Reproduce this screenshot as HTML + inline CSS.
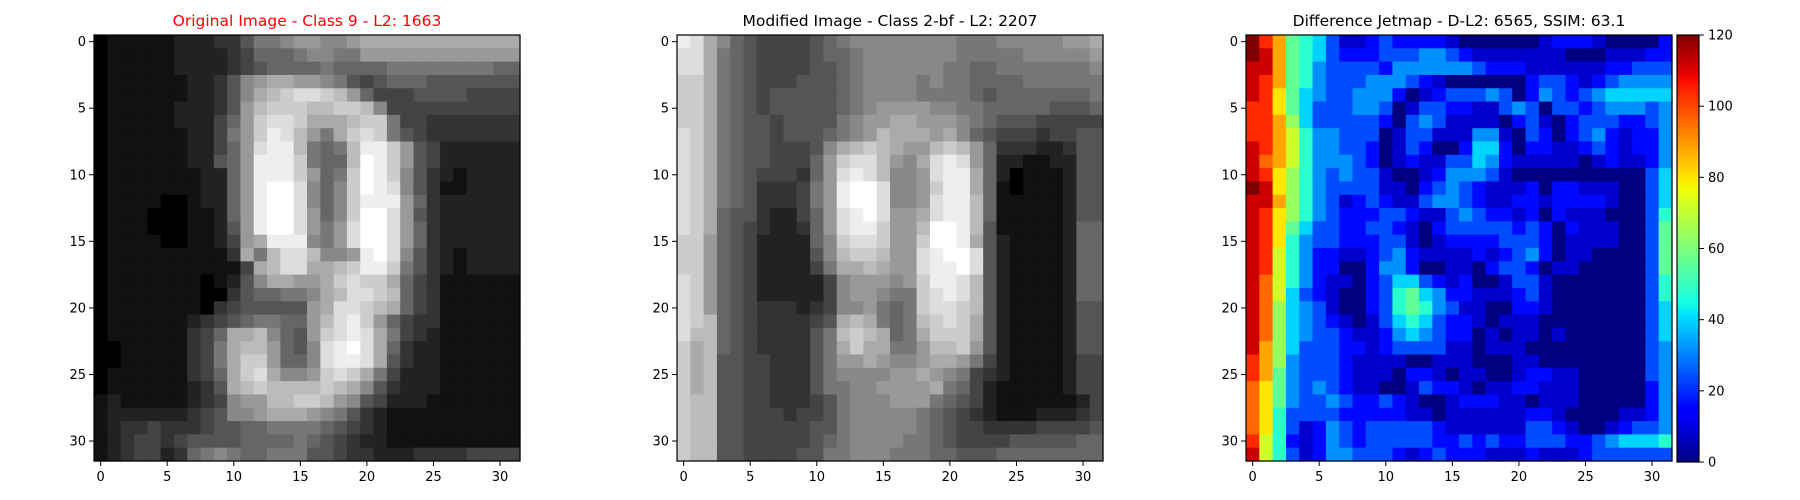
<!DOCTYPE html>
<html><head><meta charset="utf-8"><style>
html,body{margin:0;padding:0;background:#fff;}
svg{display:block;font-family:"DejaVu Sans","Liberation Sans",sans-serif;}
</style></head><body>
<svg id="fig" width="1800" height="500" viewBox="0 0 1800 500" xmlns="http://www.w3.org/2000/svg"></svg>
<script>
// --- data (32x32 grids; gray as hex level 0-f (x17), diff as hex level 0-f (x8 => 0-120)) ---
const originalRows = [
"01111122233577899889aaaaaaaaaaaa","01111122223466678877999999999999","01111122223456666766667777777766","0111111223589aa99875456665555555",
"011111122358abcddcb9644455554444","011111222359bcccbbccb84444444444","011111222469cddcaaabcc7443333333","011111122479cedb97acdc7543333333",
"011111122469deeb767beec954222222","011111122569eeec766bfec954222222","011111112269eeec967cfec853212222","011111112269effd868cfed853112222",
"011110012269effd868ceee963222222","011100011269effd968cffd953222222","011100011259effd979dffd963222222","011110011249aeee879dffd963222222",
"01111111113a7bddb889efd853212222","011111111114abddaabceec753212222","0111111101258aa99acdcca643111111","01111111003566778abddcb643111111",
"01111111034555559addcba643111111","01111112345677669bdec96433111111","0111111346aab8659cdeda7432111111","0011111347abb9658defda6322111111",
"0011111347acc9668deeda5322111111","0111111346acda889cdca74222111111","0111111235abcbbbbcba853222111111","1211111234899bbccb98542221111111",
"1222222345889aaa9875321111111111","12334333455667777654321111111111","12344345555666676543221111111111","12344236787667775543322233334444"];
const modifiedRows = [
"eda8654444567888888887778888899a","dda76544445667888888877777888889","dda76544445567888888776677777778","cca76544455567888878776666777777",
"cca76545555567888877776566666667","cca76545555567899998877666665556","cca7655455557899aa99987655544444","dca765545556789baaa9a86544434455",
"dca765544458abcba99bcb9633322355","dca765544469cddb98aded9622112255","dca765444369dedb889deea620111255","dca765333479effd889ceea610111255",
"dca765333479effd889deeb611111255","dca655322469defd99adeeb611111255","dca654322369deec99bffeb511111266","cc9654222268cddc99cffea521111266",
"cc9654222258bccb99deffd521111266","cc9654222247aaba99deefd521111266","dc9654222224899989ceedb521111266","dc9654222224899877cdedb521111266",
"dc9654333234889767cddcb521111255","dcb654333345aba767bcdca521111255","dbb654333357bcba67accca521111255","cab654333357acaa779bbc9521111255",
"cab55443335799a9889aa97421111244","cab554433357888899a9874321111244","cab5544333577889999a764211111244","cbb55443334578889997654211111124",
"cbb55444344578888876543211122234","cbb55444445578888876544333344445","cbb55444445678888776544445555566","cbb55444455778887776655566666666"];
const diffRows = [
"fdb76531123222210000001222100002","feb76532223334432111111100011122","eeb76433332444444322211111122333","edb76433344432100000023321234444",
"eda75433444201233343024323455555","dda75333443013322113430332344434","ddb85333332034311110231023332234","ddb96443330133111441032023421224",
"edb96443320132002552022112321224","ecb96444320121133542111110121124","eda86434331001244431000000000035","fea86433331102343211120221110035",
"eeb86431232113443211221222210035","eda86432223321134322120211100036","eda75332233210233333232021110037","eda64332223310122223332011110037",
"ed964221123421111212342011000037","ed964220024420011023320110000037","ec964211023553212001331000000036","ec953210023675422111231000000036",
"ec854310023676431100221000000035","ec854321013565322101110000000035","ec854332112454322010110100000035","eb853332212333311011100000000034",
"db843332111100111000110000000034","db743332111022101100122110000034","ca743432110013221011221110000024","ca743343223210012221101110000024",
"ca633332222211011111122100001124","ca631243233333211111133210012334","d9621243233333223232233322345556","e9631244333212322211121112333333"];
const xTicks = [0, 5, 10, 15, 20, 25, 30];
const yTicks = [0, 5, 10, 15, 20, 25, 30];
const cbarTicks = [0, 20, 40, 60, 80, 100, 120];
const titles = ["Original Image - Class 9 - L2: 1663", "Modified Image - Class 2-bf - L2: 2207", "Difference Jetmap - D-L2: 6565, SSIM: 63.1"];
const vmax = 120;
</script>
<script>
const NS = "http://www.w3.org/2000/svg";
const svg = document.getElementById('fig');
function mk(tag, attrs, parent) {
  const e = document.createElementNS(NS, tag);
  for (const k in attrs) e.setAttribute(k, attrs[k]);
  (parent || svg).appendChild(e);
  return e;
}
function parseGrid(rows) {
  return rows.map(r => {
    const s = r.replace(/\s+/g, '');
    const out = [];
    for (let i = 0; i < 32; i++) out.push(parseInt(s[i] || s[s.length - 1], 16));
    return out;
  });
}
function jet(t) {
  t = Math.max(0, Math.min(1, t));
  const f = (x, pts) => { for (let i = 1; i < pts.length; i++) { if (x <= pts[i][0]) { const [x0, y0] = pts[i - 1], [x1, y1] = pts[i]; return y0 + (y1 - y0) * (x - x0) / (x1 - x0); } } return pts[pts.length - 1][1]; };
  const r = f(t, [[0, 0], [0.35, 0], [0.66, 1], [0.89, 1], [1, 0.5]]);
  const g = f(t, [[0, 0], [0.125, 0], [0.375, 1], [0.64, 1], [0.91, 0], [1, 0]]);
  const b = f(t, [[0, 0.5], [0.11, 1], [0.34, 1], [0.65, 0], [1, 0]]);
  return `rgb(${Math.round(r * 255)},${Math.round(g * 255)},${Math.round(b * 255)})`;
}
const panels = [
  { x0: 94, grid: parseGrid(originalRows), color: v => { const c = Math.round(v * 17); return `rgb(${c},${c},${c})`; }, titleColor: 'red', name: 'original-image' },
  { x0: 677, grid: parseGrid(modifiedRows), color: v => { const c = Math.round(v * 17); return `rgb(${c},${c},${c})`; }, titleColor: '#000', name: 'modified-image' },
  { x0: 1246, grid: parseGrid(diffRows), color: v => jet(v * 8 / vmax), titleColor: '#000', name: 'difference-jetmap' }
];
const Y0 = 35, SIZE = 426, N = 32, CELL = SIZE / N;
const xScale = (x0, i) => x0 + (i + 0.5) * CELL;
const yScale = i => Y0 + (i + 0.5) * CELL;

panels.forEach((p, pi) => {
  const g = mk('g', {});
  
  
  p.grid.forEach((row, r) => row.forEach((v, c) => {
    const cell = mk('rect', { x: (xScale(p.x0, c) - CELL / 2).toFixed(2), y: (yScale(r) - CELL / 2).toFixed(2), width: (CELL + 0.6).toFixed(2), height: (CELL + 0.6).toFixed(2), fill: p.color(v) }, g);
    
    
  }));
  const frame = mk('rect', { x: p.x0, y: Y0, width: SIZE, height: SIZE, fill: 'none', stroke: '#000', 'stroke-width': 1.2 }, g);
  
  
  xTicks.forEach(t => {
    const x = xScale(p.x0, t);
    mk('line', { x1: x, y1: Y0 + SIZE, x2: x, y2: Y0 + SIZE + 5, stroke: '#000', 'stroke-width': 1 }, g);
    const lbl = mk('text', { x: x, y: Y0 + SIZE + 20, 'font-size': 13, 'text-anchor': 'middle', fill: '#000' }, g);
    lbl.textContent = t;
    
    
  });
  yTicks.forEach(t => {
    const y = yScale(t);
    mk('line', { x1: p.x0 - 5, y1: y, x2: p.x0, y2: y, stroke: '#000', 'stroke-width': 1 }, g);
    const lbl = mk('text', { x: p.x0 - 8, y: y + 4.5, 'font-size': 13, 'text-anchor': 'end', fill: '#000' }, g);
    lbl.textContent = t;
    
    
  });
  const tt = mk('text', { x: p.x0 + SIZE / 2, y: 26, 'font-size': 15.5, 'text-anchor': 'middle', fill: p.titleColor }, g);
  tt.textContent = titles[pi];
  
  
});

// colorbar
const CB = { x: 1677, w: 22, y: 35, h: 427 };
const cbg = mk('g', {});


const STEPS = 120;
for (let i = 0; i < STEPS; i++) {
  const h = CB.h / STEPS;
  mk('rect', { x: CB.x, y: (CB.y + CB.h - (i + 1) * h).toFixed(2), width: CB.w, height: (h + 0.5).toFixed(2), fill: jet((i + 0.5) / STEPS) }, cbg);
}
mk('rect', { x: CB.x, y: CB.y, width: CB.w, height: CB.h, fill: 'none', stroke: '#000', 'stroke-width': 1.2 }, cbg);
cbarTicks.forEach(t => {
  const y = CB.y + CB.h - t / vmax * CB.h;
  mk('line', { x1: CB.x + CB.w, y1: y, x2: CB.x + CB.w + 5, y2: y, stroke: '#000', 'stroke-width': 1 }, cbg);
  const lbl = mk('text', { x: CB.x + CB.w + 9, y: y + 4.5, 'font-size': 13, fill: '#000' }, cbg);
  lbl.textContent = t;
  
  
});
</script>
</body></html>
